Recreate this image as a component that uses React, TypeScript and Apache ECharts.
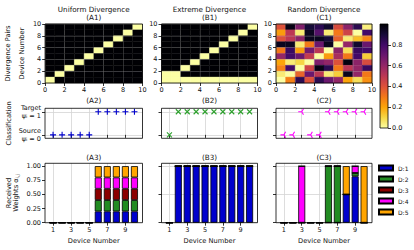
import React, { useEffect, useRef } from 'react';
import * as echarts from 'echarts';

const FONT = 'DejaVu Sans';

// ---------- data ----------
const devices = [1, 2, 3, 4, 5, 6, 7, 8, 9, 10];
const heatTicks = [0, 2, 4, 6, 8, 10];
const deviceTicks = [1, 3, 5, 7, 9];
const classTicks = [0, 1];
const weightTicksA = [0, 0.25, 0.5, 0.75, 1];
const weightTicksBC = [0, 0.5, 1];
const colorbarTicks = [0, 0.2, 0.4, 0.6, 0.8];

// divergence matrices, rows listed from top (y = 9) to bottom (y = 0)
const divA = [
  [1, 1, 1, 1, 1, 1, 1, 1, 1, 0],
  [1, 1, 1, 1, 1, 1, 1, 1, 0, 1],
  [1, 1, 1, 1, 1, 1, 1, 0, 1, 1],
  [1, 1, 1, 1, 1, 1, 0, 1, 1, 1],
  [1, 1, 1, 1, 1, 0, 1, 1, 1, 1],
  [1, 1, 1, 1, 0, 1, 1, 1, 1, 1],
  [1, 1, 1, 0, 1, 1, 1, 1, 1, 1],
  [1, 1, 0, 1, 1, 1, 1, 1, 1, 1],
  [1, 0, 1, 1, 1, 1, 1, 1, 1, 1],
  [0, 1, 1, 1, 1, 1, 1, 1, 1, 1],
];
const divB = [
  [1, 1, 1, 1, 1, 1, 1, 1, 1, 0],
  [1, 1, 1, 1, 1, 1, 1, 1, 0, 1],
  [1, 1, 1, 1, 1, 1, 1, 0, 1, 1],
  [1, 1, 1, 1, 1, 1, 0, 1, 1, 1],
  [1, 1, 1, 1, 1, 0, 1, 1, 1, 1],
  [1, 1, 1, 1, 0, 1, 1, 1, 1, 1],
  [1, 1, 1, 0, 1, 1, 1, 1, 1, 1],
  [1, 1, 0, 1, 1, 1, 1, 1, 1, 1],
  [0, 0, 1, 1, 1, 1, 1, 1, 1, 1],
  [0, 0, 0, 0, 0, 0, 0, 0, 0, 0],
];
const divC = [
  [0.40, 0.97, 0.65, 0.90, 0.85, 0.92, 0.42, 0.62, 0.85, 0.04],
  [0.22, 0.50, 0.05, 0.95, 0.75, 0.05, 0.30, 0.45, 0.00, 0.80],
  [0.40, 0.50, 0.62, 0.95, 0.95, 0.90, 0.36, 0.05, 0.15, 0.27],
  [0.95, 0.95, 0.05, 0.30, 0.70, 0.95, 0.00, 0.60, 0.92, 0.70],
  [0.30, 0.82, 0.22, 0.68, 0.50, 0.00, 0.62, 0.08, 0.82, 0.80],
  [0.60, 0.80, 0.70, 0.48, 0.00, 0.22, 0.55, 0.30, 0.80, 0.12],
  [0.20, 0.05, 0.10, 0.00, 0.65, 0.60, 0.40, 0.98, 0.62, 0.42],
  [0.28, 0.80, 0.00, 0.45, 0.97, 0.85, 0.30, 0.50, 0.60, 0.82],
  [0.05, 0.00, 0.35, 0.70, 0.50, 0.05, 0.12, 0.95, 0.60, 0.30],
  [0.00, 0.28, 0.85, 0.40, 0.85, 0.70, 0.60, 0.20, 0.08, 0.25],
];

// classification psi_i (0 = source, 1 = target)
const classA = [0, 0, 0, 0, 0, 1, 1, 1, 1, 1];
const classB = [0, 1, 1, 1, 1, 1, 1, 1, 1, 1];
const classC = [0, 0, 1, 0, 0, 1, 1, 1, 1, 1];

// received weights per source domain (rows D:1..D:5, columns devices 1..10)
const domains = ['D:1', 'D:2', 'D:3', 'D:4', 'D:5'];
const weightsA = [
  [0, 0, 0, 0, 0, 0.2, 0.2, 0.2, 0.2, 0.2],
  [0, 0, 0, 0, 0, 0.2, 0.2, 0.2, 0.2, 0.2],
  [0, 0, 0, 0, 0, 0.2, 0.2, 0.2, 0.2, 0.2],
  [0, 0, 0, 0, 0, 0.2, 0.2, 0.2, 0.2, 0.2],
  [0, 0, 0, 0, 0, 0.2, 0.2, 0.2, 0.2, 0.2],
];
const weightsB = [
  [0, 1, 1, 1, 1, 1, 1, 1, 1, 1],
  [0, 0, 0, 0, 0, 0, 0, 0, 0, 0],
  [0, 0, 0, 0, 0, 0, 0, 0, 0, 0],
  [0, 0, 0, 0, 0, 0, 0, 0, 0, 0],
  [0, 0, 0, 0, 0, 0, 0, 0, 0, 0],
];
const weightsC = [
  [0, 0, 0, 0, 0, 0, 0, 0.5, 0.82, 0],
  [0, 0, 0, 0, 0, 1, 1, 0, 0.06, 0],
  [0, 0, 0, 0, 0, 0, 0, 0, 0, 0],
  [0, 0, 1, 0, 0, 0, 0, 0, 0.12, 0],
  [0, 0, 0, 0, 0, 0, 0, 0.5, 0, 1],
];

const panelTitles = [
  'Uniform Divergence\n(A1)',
  'Extreme Divergence\n(B1)',
  'Random Divergence\n(C1)',
];
const rowTwoLabels = ['(A2)', '(B2)', '(C2)'];
const rowThreeLabels = ['(A3)', '(B3)', '(C3)'];

// ---------- styles ----------
const domainColors = ['#0000cd', '#228b22', '#8b0000', '#ff00ff', '#ffa500'];
const inferno = ['#000004', '#160b39', '#420a68', '#6a176e', '#932667', '#bc3754', '#dd513a', '#f37819', '#fca50a', '#f6d746', '#fcffa4'];
const markerColors = ['#0000cd', '#2ca02c', '#ff00ff'];
const markerSymbols = [
  'path://M5,0L5,10M0,5L10,5',
  'path://M0,0L10,10M0,10L10,0',
  'path://M5,5L0,5M5,5L7.5,0.67M5,5L7.5,9.33M10,5L10,5.01M5,0L5,0.01M5,10L5,9.99',
];
const markerSizes = [6, 5, 7];

const cols = [
  { left: 45, width: 97.5 },
  { left: 161.5, width: 96 },
  { left: 276, width: 96 },
];
const rows = [
  { top: 24, height: 59 },
  { top: 108.3, height: 30 },
  { top: 163.3, height: 59.4 },
];

function buildOption() {
  const grids: any[] = [];
  rows.forEach((r) =>
    cols.forEach((c) =>
      grids.push({
        left: c.left, top: r.top, width: c.width, height: r.height,
        show: true, borderColor: '#000', borderWidth: 0.8,
        backgroundColor: 'transparent', z: 10,
      })
    )
  );
  grids.push({
    left: 380, top: 24, width: 8, height: 104,
    show: true, borderColor: '#000', borderWidth: 0.8,
    backgroundColor: 'transparent', z: 10,
  });

  const tick = (custom?: number[]) => ({
    show: true, length: 3, lineStyle: { color: '#000', width: 0.8 },
    ...(custom ? { customValues: custom } : {}),
  });
  const lbl = { fontSize: 6.5, color: '#111', fontFamily: FONT };
  const nameStyle = { fontSize: 6.7, color: '#111', fontFamily: FONT };
  const lightGrid = { show: true, lineStyle: { color: '#d4d4d4', width: 0.8 } };

  const xAxes: any[] = [];
  const yAxes: any[] = [];

  // row 1: heatmaps
  for (let c = 0; c < 3; c++) {
    xAxes.push({
      type: 'value', gridIndex: c, min: 0, max: 10, interval: 2, z: 3,
      axisLine: { show: false }, axisTick: tick(heatTicks),
      axisLabel: { ...lbl, margin: 3.5, customValues: heatTicks },
      splitLine: { show: true, lineStyle: { color: 'rgba(176,176,176,0.3)', width: 0.8 } },
    });
    yAxes.push({
      type: 'value', gridIndex: c, min: 0, max: 10, interval: 2, z: 3,
      axisLine: { show: false }, axisTick: tick(heatTicks),
      axisLabel: { ...lbl, margin: 4, customValues: heatTicks },
      splitLine: { show: true, lineStyle: { color: 'rgba(176,176,176,0.3)', width: 0.8 } },
      ...(c === 0
        ? {
            name: 'Divergence Pairs\nDevice Number', nameLocation: 'middle', nameGap: 12.5,
            nameTextStyle: { ...nameStyle, lineHeight: 14 },
          }
        : {}),
    });
  }
  // row 2: classification
  for (let c = 0; c < 3; c++) {
    xAxes.push({
      type: 'value', gridIndex: 3 + c, min: 0.11, max: 10.89,
      axisLine: { show: false }, axisTick: tick(deviceTicks),
      axisLabel: { show: false, customValues: deviceTicks },
      splitLine: lightGrid,
    });
    yAxes.push({
      type: 'value', gridIndex: 3 + c, min: -0.15, max: 1.15,
      axisLine: { show: false }, axisTick: tick(classTicks),
      axisLabel: {
        show: c === 0, customValues: classTicks, margin: 4, align: 'right',
        formatter: (v: number) =>
          v === 1 ? '{a|Target}\n{a|ψ}{s|i}{a| = 1}' : '{a|Source}\n{a|ψ}{s|i}{a| = 0}',
        rich: {
          a: { fontSize: 6.5, lineHeight: 7.5, color: '#111', fontFamily: FONT },
          s: { fontSize: 4.5, lineHeight: 7.5, color: '#111', fontFamily: FONT, verticalAlign: 'bottom' },
        },
      },
      splitLine: lightGrid,
      ...(c === 0
        ? { name: 'Classification', nameLocation: 'middle', nameGap: 32.5, nameTextStyle: { ...nameStyle, lineHeight: 8 } }
        : {}),
    });
  }
  // row 3: weights
  for (let c = 0; c < 3; c++) {
    xAxes.push({
      type: 'value', gridIndex: 6 + c, min: 0.11, max: 10.89,
      axisLine: { show: false }, axisTick: tick(deviceTicks),
      axisLabel: { ...lbl, margin: 4, customValues: deviceTicks },
      splitLine: lightGrid,
      name: 'Device Number', nameLocation: 'middle', nameGap: 14.3,
      nameTextStyle: { ...nameStyle, lineHeight: 8 },
    });
    const wt = c === 0 ? weightTicksA : weightTicksBC;
    yAxes.push({
      type: 'value', gridIndex: 6 + c, min: 0, max: 1.05,
      axisLine: { show: false }, axisTick: tick(wt),
      axisLabel: {
        show: c === 0, customValues: wt, margin: 4, ...lbl,
        formatter: (v: number) => v.toFixed(2),
      },
      splitLine: c === 0 ? { show: false } : lightGrid,
      ...(c === 0
        ? {
            name: '{a|Received}\n{a|Weights α}{s|i,j}', nameLocation: 'middle', nameGap: 25,
            nameTextStyle: {
              ...nameStyle,
              rich: {
                a: { fontSize: 6.7, lineHeight: 7.5, color: '#111', fontFamily: FONT },
                s: { fontSize: 4.6, lineHeight: 7.5, color: '#111', fontFamily: FONT, verticalAlign: 'bottom' },
              },
            },
          }
        : {}),
    });
  }
  // colorbar
  xAxes.push({ type: 'category', gridIndex: 9, data: ['cb'], show: false });
  yAxes.push({
    type: 'value', gridIndex: 9, position: 'right', min: 0, max: 1,
    axisLine: { show: false }, axisTick: tick(colorbarTicks),
    axisLabel: { ...lbl, margin: 4, customValues: colorbarTicks, formatter: (v: number) => v.toFixed(1) },
    splitLine: { show: false },
  });

  const series: any[] = [];
  [divA, divB, divC].forEach((m, k) => {
    const cells: number[][] = [];
    m.forEach((row, r) => row.forEach((v, x) => cells.push([x, m.length - 1 - r, v])));
    series.push({
      type: 'custom', xAxisIndex: k, yAxisIndex: k, encode: { x: 0, y: 1 },
      data: cells, silent: true,
      renderItem: (_p: any, api: any) => {
        const x = api.value(0);
        const y = api.value(1);
        const p0 = api.coord([x, y + 1]);
        const p1 = api.coord([x + 1, y]);
        const col = api.visual('color');
        return {
          type: 'rect',
          shape: { x: p0[0], y: p0[1], width: p1[0] - p0[0], height: p1[1] - p0[1] },
          style: { fill: col, stroke: col, lineWidth: 0.4 },
        };
      },
    });
  });
  [classA, classB, classC].forEach((cls, k) => {
    series.push({
      type: 'scatter', xAxisIndex: 3 + k, yAxisIndex: 3 + k, z: 5, silent: true,
      symbol: markerSymbols[k], symbolSize: markerSizes[k],
      itemStyle: { color: 'rgba(0,0,0,0)', borderColor: markerColors[k], borderWidth: 1.1, opacity: 1 },
      data: devices.map((d, i) => [d, cls[i]]),
    });
  });
  // stacked bars: data as [weight, device] so that the stacked dimension is the weight
  [weightsA, weightsB, weightsC].forEach((w, k) => {
    domains.forEach((name, d) => {
      series.push({
        type: 'bar', name, xAxisIndex: 6 + k, yAxisIndex: 6 + k, stack: 'w' + k,
        barWidth: 7, silent: true,
        encode: { x: 1, y: 0 },
        itemStyle: { color: domainColors[d], borderColor: '#000', borderWidth: 0.8 },
        data: devices.map((x, i) => [w[d][i], x]),
      });
    });
  });
  series.push({
    type: 'bar', xAxisIndex: 9, yAxisIndex: 9, data: [1], barWidth: '100%', silent: true,
    itemStyle: {
      color: new echarts.graphic.LinearGradient(0, 0, 0, 1,
        inferno.map((c, i) => ({ offset: i / (inferno.length - 1), color: c }))),
    },
  });

  const titleStyle = { fontSize: 7.2, lineHeight: 8.5, fontWeight: 'normal', color: '#111', fontFamily: FONT };
  const titles: any[] = [];
  cols.forEach((c, i) => {
    const cx = c.left + c.width / 2;
    titles.push({ text: panelTitles[i], left: cx, top: 4.75, textAlign: 'center', textVerticalAlign: 'top', padding: 0, textStyle: titleStyle });
    titles.push({ text: rowTwoLabels[i], left: cx, top: 95.75, textAlign: 'center', textVerticalAlign: 'top', padding: 0, textStyle: titleStyle });
    titles.push({ text: rowThreeLabels[i], left: cx, top: 153.25, textAlign: 'center', textVerticalAlign: 'top', padding: 0, textStyle: titleStyle });
  });

  return {
    animation: false,
    backgroundColor: '#fff',
    textStyle: { fontFamily: FONT },
    title: titles,
    grid: grids,
    xAxis: xAxes,
    yAxis: yAxes,
    visualMap: {
      type: 'continuous', show: false, min: 0, max: 1, dimension: 2, seriesIndex: [0, 1, 2],
      inRange: { color: inferno.slice().reverse() },
    },
    legend: {
      data: domains, orient: 'vertical', left: 378, top: 164, itemWidth: 14, itemHeight: 5,
      itemGap: 3, selectedMode: false, icon: 'rect', padding: 0,
      textStyle: { fontSize: 6, color: '#111', fontFamily: FONT, lineHeight: 8 },
    },
    series,
  };
}

export default function App() {
  const ref = useRef<HTMLDivElement>(null);
  useEffect(() => {
    document.body.style.margin = '0';
    const chart = echarts.init(ref.current!, null, { renderer: 'svg' });
    chart.setOption(buildOption() as any);
    return () => chart.dispose();
  }, []);
  return <div ref={ref} style={{ width: 414, height: 250 }} />;
}
